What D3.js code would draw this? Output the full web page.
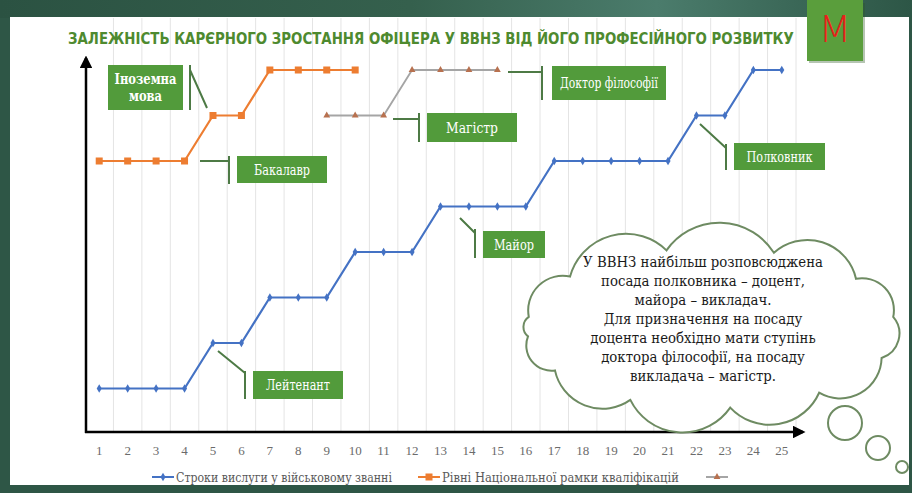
<!DOCTYPE html>
<html><head><meta charset="utf-8">
<script src="https://cdn.jsdelivr.net/npm/d3@7"></script>
<style>html,body{margin:0;padding:0;background:#fff;}svg{display:block;}</style>
</head><body>
<svg id="c" width="912" height="493"></svg>
<script>
const tickLabels = ["1","2","3","4","5","6","7","8","9","10","11","12","13","14","15","16","17","18","19","20","21","22","23","24","25"];
const serviceYears = [1,1,1,1,2,2,3,3,3,4,4,4,5,5,5,5,6,6,6,6,6,7,7,8,8];
const nrkLevels = [6,6,6,6,7,7,8,8,8,8,null,null,null,null,null,null,null,null,null,null,null,null,null,null,null];
const degreeLevels = [null,null,null,null,null,null,null,null,7,7,7,8,8,8,8,null,null,null,null,null,null,null,null,null,null];
const seriesNames = ["Строки вислуги у військовому званні","Рівні Національної рамки кваліфікацій",""];
const titleText = "ЗАЛЕЖНІСТЬ КАРЄРНОГО ЗРОСТАННЯ ОФІЦЕРА У ВВНЗ ВІД ЙОГО ПРОФЕСІЙНОГО РОЗВИТКУ";
const cloudLines = ["У ВВНЗ найбільш розповсюджена","посада полковника – доцент,","майора – викладач.","Для призначення на посаду","доцента необхідно мати ступінь","доктора філософії, на посаду","викладача – магістр."];

const svg = d3.select("#c");
const W = 912, H = 493;
const SERIF = "'DejaVu Serif','Liberation Serif',serif";

// helper: text condensed horizontally (k<=1) to a target width
function condensed(parent, str, tx, ty, opts){
  const g = parent.append("g");
  const t = g.append("text").attr("x",0).attr("y",0).text(str)
    .style("font-family",opts.family||SERIF).attr("font-size",opts.size)
    .attr("fill",opts.fill).attr("text-anchor",opts.anchor||"start")
    .attr("font-weight",opts.weight||"normal");
  const nat = t.node().getComputedTextLength();
  const k = opts.k != null ? opts.k : Math.min(1, opts.width/nat);
  g.attr("transform",`translate(${tx},${ty}) scale(${k},1)`);
  return {g, t, nat, k};
}

// frame
const defs = svg.append("defs");
const g1 = defs.append("linearGradient").attr("id","topg").attr("x1","0").attr("x2","1");
g1.append("stop").attr("offset","0").attr("stop-color","#2b5242");
g1.append("stop").attr("offset","0.45").attr("stop-color","#35604d");
g1.append("stop").attr("offset","0.72").attr("stop-color","#4b7c6c");
g1.append("stop").attr("offset","1").attr("stop-color","#2d5646");
svg.append("rect").attr("width",W).attr("height",H).attr("fill","#2e5646");
svg.append("rect").attr("width",W).attr("height",18).attr("fill","url(#topg)");
svg.append("rect").attr("x",10).attr("y",17).attr("width",899).attr("height",468).attr("fill","#ffffff");

const x = d3.scaleBand().domain(tickLabels).range([85,796]).padding(0);
const y = d3.scaleLinear().domain([0,8]).range([434,70]);
const cx = (i) => x(tickLabels[i]) + x.bandwidth()/2;

// gridlines at category boundaries
svg.append("g").selectAll("line").data(tickLabels).join("line")
  .attr("x1",d=>x(d)+x.bandwidth())
  .attr("x2",d=>x(d)+x.bandwidth())
  .attr("y1",18).attr("y2",432).attr("stroke","#e4e4e4").attr("stroke-width",1);

// title
condensed(svg, titleText, 68, 44, {family:"'DejaVu Sans Condensed','Liberation Sans Narrow','Open Sans',sans-serif",
  size:16.5, weight:"bold", fill:"#4e8a2f", width:726});

// M logo
svg.append("rect").attr("x",809).attr("y",3).attr("width",56).attr("height",60).attr("fill","#2f5a24").attr("opacity",0.35);
svg.append("rect").attr("x",807).attr("y",0).attr("width",56).attr("height",61).attr("fill","#5a9e3c");
svg.append("text").attr("x",835).attr("y",42).attr("text-anchor","middle").text("M")
  .style("font-family","'DejaVu Sans','Liberation Sans',sans-serif").attr("font-weight","200")
  .attr("font-size",38).attr("fill","#e8201a");

// axes with arrows
defs.append("marker").attr("id","arr").attr("viewBox","0 0 10 10").attr("refX",8).attr("refY",5)
  .attr("markerWidth",5).attr("markerHeight",5).attr("orient","auto")
  .append("path").attr("d","M0,0 L10,5 L0,10 z").attr("fill","#000");
svg.append("line").attr("x1",86).attr("y1",433).attr("x2",86).attr("y2",58)
  .attr("stroke","#000").attr("stroke-width",2.5).attr("marker-end","url(#arr)");
svg.append("line").attr("x1",85).attr("y1",432).attr("x2",803).attr("y2",432)
  .attr("stroke","#000").attr("stroke-width",2.5).attr("marker-end","url(#arr)");

// tick labels
const xAxis = d3.axisBottom(x).tickSize(0).tickPadding(0);
const ax = svg.append("g").attr("transform","translate(0,446)").call(xAxis);
ax.select(".domain").remove();
ax.selectAll("text").style("font-family","'Liberation Serif','DejaVu Serif',serif").attr("font-size",13).attr("fill","#6b6b6b");

// cloud
function cloudPath(cxp, cyp, rx, ry, angs, rf){
  const pts = angs.map(a=>[cxp+rx*Math.cos(a*Math.PI/180), cyp+ry*Math.sin(a*Math.PI/180)]);
  let d = "M"+pts[0][0]+","+pts[0][1];
  for(let i=0;i<pts.length;i++){
    const p=pts[i], q=pts[(i+1)%pts.length];
    const ch=Math.hypot(q[0]-p[0],q[1]-p[1]);
    const r=ch*rf[i];
    d+=" A"+r+","+r+" 0 0 1 "+q[0]+","+q[1];
  }
  return d+"Z";
}
const cg = svg.append("g");
cg.append("path")
  .attr("d",cloudPath(711,328,184,80,[-172,-140,-104,-70,-38,-8,22,54,84,116,148,174],[0.6,0.58,0.6,0.58,0.6,0.6,0.58,0.6,0.58,0.6,0.58,0.62]))
  .attr("fill","#fff").attr("stroke","#6e8b62").attr("stroke-width",2);
[[845,423,17],[878,448,12],[902,467,6]].forEach(c=>{
  cg.append("circle").attr("cx",c[0]).attr("cy",c[1]).attr("r",c[2]).attr("fill","none").attr("stroke","#6e8b62").attr("stroke-width",2);
});
const first = condensed(cg, cloudLines[0], 703, 267, {size:15.5, fill:"#1a1a1a", anchor:"middle", width:240});
cloudLines.slice(1).forEach((s,i)=>condensed(cg, s, 703, 267+(i+1)*19, {size:15.5, fill:"#1a1a1a", anchor:"middle", k:first.k}));

// series
const line = d3.line().defined(d=>d.v!=null).x(d=>cx(d.i)).y(d=>y(d.v));
const mk = (arr)=>arr.map((v,i)=>({v,i}));
const blue="#4472c4", orange="#ed7d31", gray="#a5a5a5";
svg.append("path").attr("d",line(mk(serviceYears))).attr("fill","none").attr("stroke",blue).attr("stroke-width",2.2);
svg.append("path").attr("d",line(mk(nrkLevels))).attr("fill","none").attr("stroke",orange).attr("stroke-width",2.2);
svg.append("path").attr("d",line(mk(degreeLevels))).attr("fill","none").attr("stroke",gray).attr("stroke-width",1.8);
svg.append("g").selectAll("path").data(mk(serviceYears)).join("path")
  .attr("d",d3.symbol(d3.symbolDiamond,22)).attr("transform",d=>`translate(${cx(d.i)},${y(d.v)})`).attr("fill",blue);
svg.append("g").selectAll("rect").data(mk(nrkLevels).filter(d=>d.v!=null)).join("rect")
  .attr("x",d=>cx(d.i)-3.5).attr("y",d=>y(d.v)-3.5).attr("width",7).attr("height",7).attr("fill",orange);
svg.append("g").selectAll("path").data(mk(degreeLevels).filter(d=>d.v!=null)).join("path")
  .attr("d",d3.symbol(d3.symbolTriangle,20)).attr("transform",d=>`translate(${cx(d.i)},${y(d.v)})`).attr("fill","#b8714f");

// callouts
const callouts = [
  {t:["Іноземна","мова"], box:[108,65,75,45], lead:"M207,108 L190,70 M190,65 V110", bold:true, maxw:62},
  {t:["Бакалавр"], box:[237,156,90,27], lead:"M200,161 H229 M229,156 V184", maxw:56},
  {t:["Магістр"], box:[427,113,90,29], lead:"M393,119 H419 M419,113 V142", maxw:52},
  {t:["Доктор філософії"], box:[552,66,114,34], lead:"M508,72 H542 M542,66 V100", maxw:98},
  {t:["Полковник"], box:[734,143,91,27], lead:"M700,124 L726,148 M726,144 V170", maxw:66},
  {t:["Майор"], box:[483,231,62,27], lead:"M460,218 L475,233 M475,229 V258", maxw:40},
  {t:["Лейтенант"], box:[253,371,90,28], lead:"M218,351 L245,373 M245,371 V399", maxw:64}
];
const cl = svg.append("g");
callouts.forEach(c=>{
  cl.append("path").attr("d",c.lead).attr("fill","none").attr("stroke","#4d7a45").attr("stroke-width",2);
  cl.append("rect").attr("x",c.box[0]).attr("y",c.box[1]).attr("width",c.box[2]).attr("height",c.box[3]).attr("fill","#529b3b");
  const n=c.t.length, lh=17;
  const fs = c.bold?14:15;
  // common condense factor for all lines of this callout
  const probe = svg.append("text").style("font-family",SERIF).attr("font-size",fs).attr("font-weight",c.bold?"bold":"normal");
  const mw = d3.max(c.t, s=>{probe.text(s); return probe.node().getComputedTextLength();});
  probe.remove();
  const k = Math.min(1, c.maxw/mw);
  c.t.forEach((s,i)=>condensed(cl, s, c.box[0]+c.box[2]/2, c.box[1]+c.box[3]/2+(i-(n-1)/2)*lh+5,
    {size:fs, fill:"#fff", anchor:"middle", weight:c.bold?"bold":"normal", k}));
});

// legend
const lg = svg.append("g");
const legendItems = [
  {x:152, c:blue, sym:"d", w:216}, {x:418, c:orange, sym:"s", w:237}, {x:706, c:gray, sym:"t", w:0}
];
legendItems.forEach((it,i)=>{
  const ly=477;
  lg.append("line").attr("x1",it.x).attr("x2",it.x+22).attr("y1",ly).attr("y2",ly).attr("stroke",it.c).attr("stroke-width",2);
  if(it.sym==="d") lg.append("path").attr("d",d3.symbol(d3.symbolDiamond,22)).attr("transform",`translate(${it.x+11},${ly})`).attr("fill",it.c);
  if(it.sym==="s") lg.append("rect").attr("x",it.x+7.5).attr("y",ly-3.5).attr("width",7).attr("height",7).attr("fill",it.c);
  if(it.sym==="t") lg.append("path").attr("d",d3.symbol(d3.symbolTriangle,20)).attr("transform",`translate(${it.x+11},${ly})`).attr("fill","#b8714f");
  if(seriesNames[i]) condensed(lg, seriesNames[i], it.x+24, ly+4.5, {size:13.5, fill:"#595959", width:it.w});
});
</script>
</body></html>
